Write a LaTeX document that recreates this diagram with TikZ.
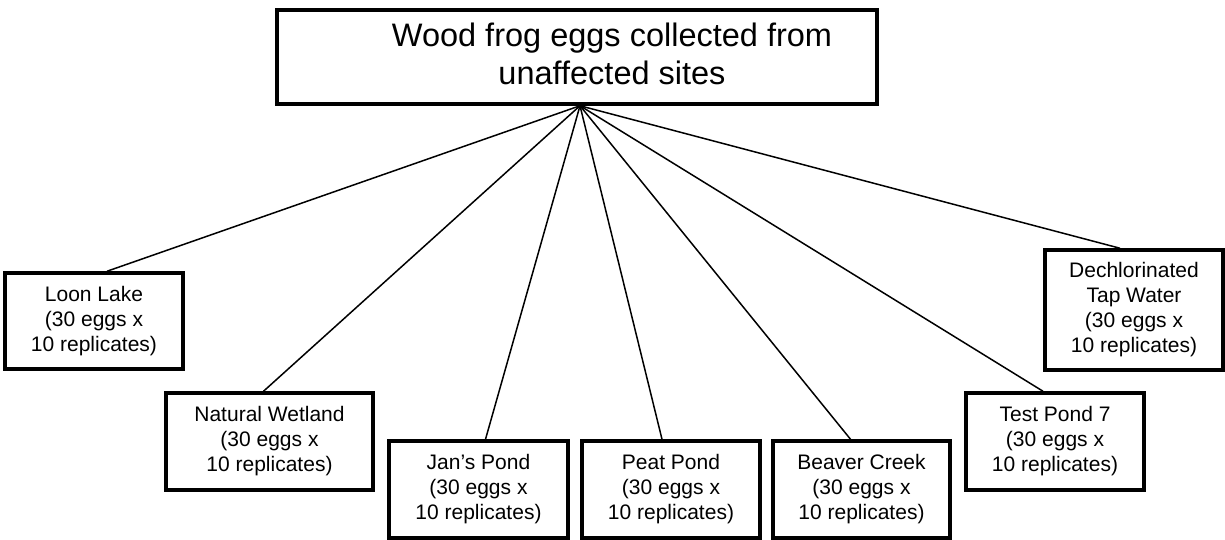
\documentclass[tikz,border=0pt]{standalone}
\usepackage{fontspec}
\setmainfont{Liberation Sans}
\usetikzlibrary{calc}
\begin{document}
\begin{tikzpicture}[x=0.5pt,y=-0.5pt,
  box/.style={draw=black,line width=1.75pt,fill=white,align=center,inner sep=0pt,
     font=\fontsize{10.5pt}{12.5pt}\selectfont},
  titletext/.style={align=center,inner sep=0pt,font=\fontsize{16.25pt}{19pt}\selectfont},
  link/.style={draw=black,line width=0.75pt}]
\useasboundingbox (0,0) rectangle (1225,540);
\fill[white] (0,0) rectangle (1225,540);
% top box
\node[box,minimum width=300pt,minimum height=47pt] (top) at (577,57) {};
\node[titletext] (title) at (612,54) {Wood frog eggs collected from\\unaffected sites};
\coordinate (apex) at ($(top.south)+(3,0)$);
% site boxes
\node[box,minimum width=89pt,minimum height=48pt] (ll) at (94,321) {Loon Lake\\(30 eggs x\\10 replicates)};
\node[box,minimum width=103.5pt,minimum height=48.5pt] (nw) at (269.5,441.5) {Natural Wetland\\(30 eggs x\\10 replicates)};
\node[box,minimum width=89.5pt,minimum height=48.5pt] (jan) at (478.5,489.5) {Jan’s Pond\\(30 eggs x\\10 replicates)};
\node[box,minimum width=89pt,minimum height=48.5pt] (peat) at (671,489.5) {Peat Pond\\(30 eggs x\\10 replicates)};
\node[box,minimum width=88.5pt,minimum height=48.5pt] (bc) at (861.5,489.5) {Beaver Creek\\(30 eggs x\\10 replicates)};
\node[box,minimum width=89pt,minimum height=48.5pt] (tp) at (1055,441.5) {Test Pond 7\\(30 eggs x\\10 replicates)};
\node[box,minimum width=89pt,minimum height=60pt] (dtw) at (1134,310) {Dechlorinated\\Tap Water\\(30 eggs x\\10 replicates)};
% connectors
\draw[link] (apex) -- ($(ll.north)+(13,0)$);
\draw[link] (apex) -- ($(nw.north)+(-6,0)$);
\draw[link] (apex) -- ($(jan.north)+(7,0)$);
\draw[link] (apex) -- ($(peat.north)+(-9,0)$);
\draw[link] (apex) -- ($(bc.north)+(-11,0)$);
\draw[link] (apex) -- ($(tp.north)+(-12,0)$);
\draw[link] (apex) -- ($(dtw.north)+(-14,0)$);
\end{tikzpicture}
\end{document}
